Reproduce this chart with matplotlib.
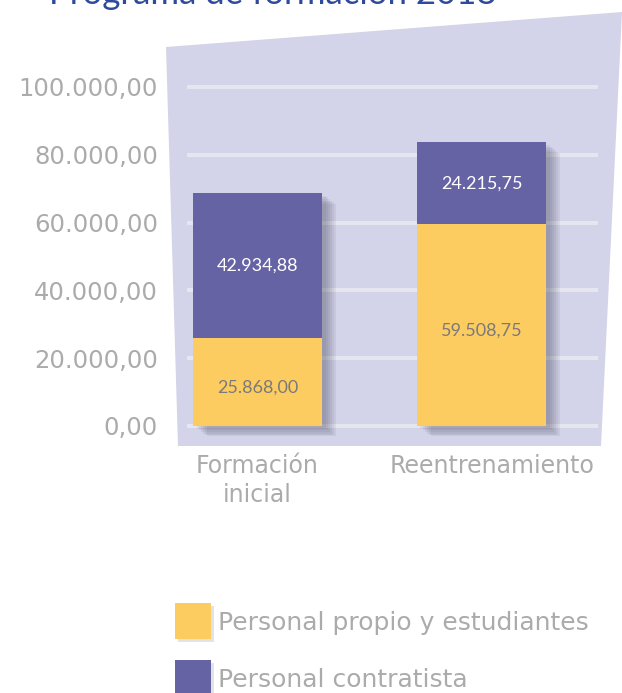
import numpy as np
import matplotlib
matplotlib.use('Agg')
import matplotlib.pyplot as plt
from matplotlib.patches import Polygon, Rectangle
import matplotlib.patheffects as pe
from matplotlib.transforms import ScaledTranslation

# Data
categories = ['Formación\ninicial', 'Reentrenamiento']
propio = [25868.00, 59508.75]
contratista = [42934.88, 24215.75]
propio_labels = ['25.868,00', '59.508,75']
contratista_labels = ['42.934,88', '24.215,75']
yticks = [0, 20000, 40000, 60000, 80000, 100000]
ytick_labels = ['0,00', '20.000,00', '40.000,00', '60.000,00', '80.000,00', '100.000,00']
legend_labels = ['Personal propio y estudiantes', 'Personal contratista']
title = 'Programa de formación 2018'

# Colors
c_yellow = '#fdcc60'
c_purple = '#6563a4'
c_panel = '#d3d3e9'
c_grid = '#e6e6f1'
c_text = '#ababab'

W, H = 622, 693
fig = plt.figure(figsize=(W / 100, H / 100), dpi=100)

def fx(px):
    return px / W

def fy(py):
    return 1 - py / H

# Background panel
panel = Polygon([(fx(166), fy(47)), (fx(622), fy(12)), (fx(601), fy(446)), (fx(178), fy(446))],
                closed=True, transform=fig.transFigure, facecolor=c_panel, edgecolor='none', zorder=0)
fig.add_artist(panel)

# Axes placement: y 0 -> 426px, 100000 -> 87px
ppu = (426 - 87) / 100000
ylo, yhi = -3000, 103000
ax_bottom = 426 + (0 - ylo) * ppu
ax_top = 87 - (yhi - 100000) * ppu
ax = fig.add_axes([fx(187), fy(ax_bottom), fx(598) - fx(187), (ax_bottom - ax_top) / H])
ax.set_facecolor('none')
ax.set_ylim(ylo, yhi)
ax.set_xlim(-0.315, 1.52)

x = np.arange(len(categories))
width = 0.576
totals = np.array(propio) + np.array(contratista)

# Grid
for t in yticks:
    ax.axhline(t, color=c_grid, lw=3, zorder=1)

# Soft shadow behind the whole stack
shadow_fx = [pe.SimplePatchShadow(offset=(o, -o * 0.8), shadow_rgbFace='#44445a', alpha=0.08)
             for o in (10, 8.5, 7, 5.5, 4, 2.5)]
ax.bar(x, totals, width, color=c_purple, zorder=2, path_effects=shadow_fx + [pe.Normal()])

ax.bar(x, propio, width, color=c_yellow, zorder=3)
ax.bar(x, contratista, width, bottom=propio, color=c_purple, zorder=3)

for i in range(len(x)):
    ax.text(x[i], propio[i] / 2 - 1500, propio_labels[i], ha='center', va='center',
            color='#7a7a7a', fontsize=13, family='Lato', zorder=4)
    ax.text(x[i], propio[i] + contratista[i] / 2, contratista_labels[i], ha='center', va='center',
            color='white', fontsize=13, family='Lato', zorder=4)

ax.set_yticks(yticks)
ax.set_yticklabels(ytick_labels, fontsize=17.5, color=c_text, family='DejaVu Sans')
ax.set_xticks(x)
ax.set_xticklabels(categories, fontsize=17, color=c_text, family='DejaVu Sans', linespacing=1.25)
ax.tick_params(axis='y', length=0, pad=21)
ax.tick_params(axis='x', length=0, pad=13)
lbl = ax.get_xticklabels()[1]
lbl.set_transform(lbl.get_transform() + ScaledTranslation(11 / 100, 0, fig.dpi_scale_trans))
for s in ax.spines.values():
    s.set_visible(False)

# Title (cut at the top, as in the source image)
fig.text(fx(49), fy(4), title, fontsize=25, color='#2d4a9c', family='Lato',
         ha='left', va='baseline')

# Legend
for i, (lab, col) in enumerate(zip(legend_labels, [c_yellow, c_purple])):
    top = 603 + i * 57
    fig.add_artist(Rectangle((fx(178), fy(top + 39)), 36 / W, 36 / H, transform=fig.transFigure,
                             facecolor='#cfcfd8', edgecolor='none', alpha=0.6))
    fig.add_artist(Rectangle((fx(175), fy(top + 36)), 36 / W, 36 / H, transform=fig.transFigure,
                             facecolor=col, edgecolor='none'))
    fig.text(fx(218), fy(top + 20), lab, fontsize=18, color=c_text, family='DejaVu Sans',
             ha='left', va='center')

fig.savefig('out.png', dpi=100)
